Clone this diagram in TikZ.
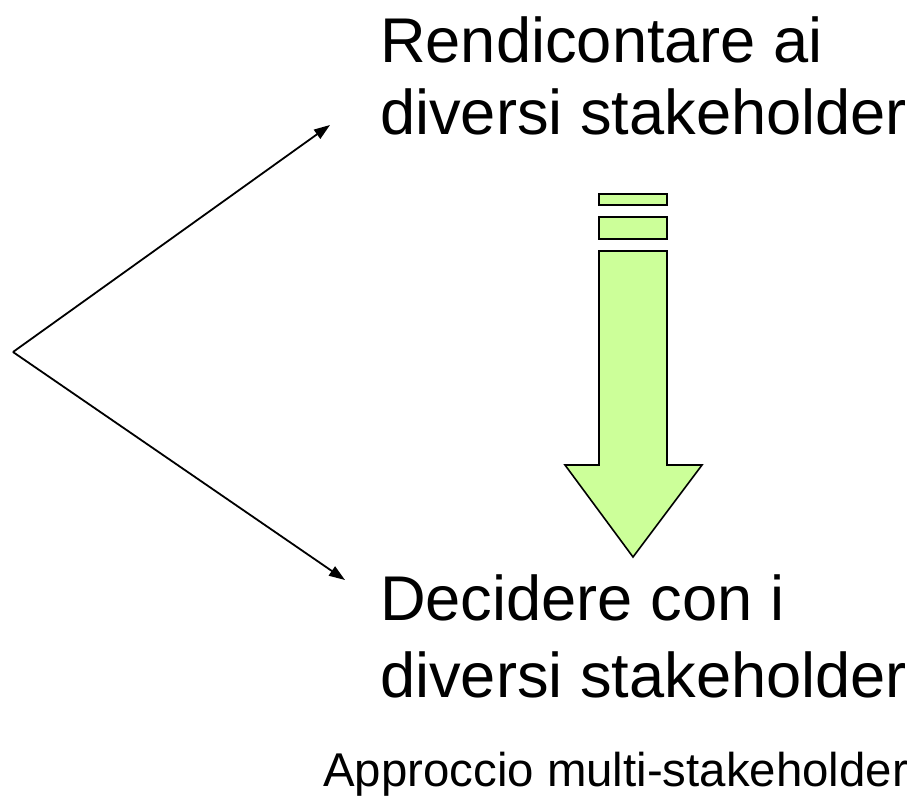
\documentclass[tikz,border=0pt]{standalone}
\usepackage{fontspec}
\setmainfont{Liberation Sans}
\usetikzlibrary{arrows.meta}
\definecolor{arrowgreen}{HTML}{CCFF99}
\tikzset{
  bigtext/.style={anchor=base west, inner sep=0pt, font=\fontsize{63.2}{75}\selectfont},
  smalltext/.style={anchor=base west, inner sep=0pt, font=\fontsize{47.4}{56}\selectfont},
  conn/.style={line width=1.8pt, -{Triangle[length=16pt,width=11pt]}},
  stripe/.style={draw=black, line width=1.6pt, fill=arrowgreen},
}
\begin{document}
\begin{tikzpicture}[x=1pt,y=-1pt]
\useasboundingbox (0,0) rectangle (920,795);
% texts
\node[bigtext] (r1) at (380,62) {Rendicontare ai};
\node[bigtext] (r2) at (380,134) {diversi stakeholder};
\node[bigtext] (d1) at (380,620) {Decidere con i};
\node[bigtext] (d2) at (380,697) {diversi stakeholder};
\node[smalltext] (ap) at (323,786) {Approccio multi-stakeholder};
% connectors
\coordinate (v) at (13,352);
\coordinate (tu) at (330,125);
\coordinate (tl) at (345,580);
\draw[conn] (v) -- (tu);
\draw[conn] (v) -- (tl);
% striped block arrow
\draw[stripe] (599,194) rectangle (667,205);
\draw[stripe] (599,217) rectangle (667,239);
\draw[stripe, line join=miter] (599,251) -- (667,251) -- (667,465) -- (702,465) -- (633,557) -- (565,465) -- (599,465) -- cycle;
\end{tikzpicture}
\end{document}
